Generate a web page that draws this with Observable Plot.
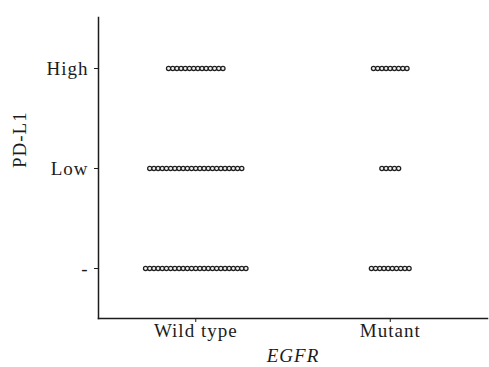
<!DOCTYPE html>
<html>
<head>
<meta charset="utf-8">
<script src="https://cdn.jsdelivr.net/npm/d3@7"></script>
<script src="https://cdn.jsdelivr.net/npm/@observablehq/plot@0.6"></script>
<style>
  html, body { margin: 0; padding: 0; background: #fff; }
  svg text { letter-spacing: 1px; }
</style>
</head>
<body>
<div id="chart"></div>
<script>
// EGFR groups (x categories)
const groups = ["Wild type", "Mutant"];
// PD-L1 levels (y categories, top to bottom)
const levels = ["High", "Low", "-"];
// Counts of patients per level, for each group (order follows `levels`)
const wildTypeCounts = [14, 23, 25];
const mutantCounts = [9, 5, 10];

const countsByGroup = [wildTypeCounts, mutantCounts];
const step = 0.0215; // horizontal spacing between stacked dots, in x units

const rows = [];
groups.forEach((g, gi) => {
  levels.forEach((lv, li) => {
    const n = countsByGroup[gi][li];
    for (let i = 0; i < n; i++) {
      rows.push({group: g, level: lv, pos: gi + (i - (n - 1) / 2) * step});
    }
  });
});

const ink = "#1c1c1c";
const chart = Plot.plot({
  width: 489,
  height: 367,
  marginLeft: 98,
  marginRight: 2,
  marginTop: 17,
  marginBottom: 49,
  style: {fontFamily: "'Liberation Serif', 'Times New Roman', serif", fontSize: "19px", color: ink, background: "#fff"},
  x: {domain: [-0.5, 1.5], label: null},
  y: {type: "point", domain: levels, padding: 0.5, label: null},
  marks: [
    Plot.frame({anchor: "left", stroke: ink, strokeWidth: 1.5}),
    Plot.frame({anchor: "bottom", stroke: ink, strokeWidth: 1.5}),
    Plot.axisX({ticks: [0, 1], tickFormat: d => groups[d], tickSize: 4, tickPadding: 1, fontSize: 19, label: null, stroke: ink}),
    Plot.axisY({tickSize: 4, tickPadding: 6, fontSize: 19, label: null, stroke: ink}),
    Plot.dot(rows, {x: "pos", y: "level", r: 2.1, fill: "#eeeeee", stroke: "#1e1e1e", strokeWidth: 1.25}),
    Plot.text(["PD-L1"], {frameAnchor: "left", dx: -79, rotate: -90, fontSize: 19, fill: ink}),
    Plot.text(["EGFR"], {frameAnchor: "bottom", dy: 43, fontSize: 19, fontStyle: "italic", fill: ink})
  ]
});

document.getElementById("chart").appendChild(chart);
</script>
</body>
</html>
